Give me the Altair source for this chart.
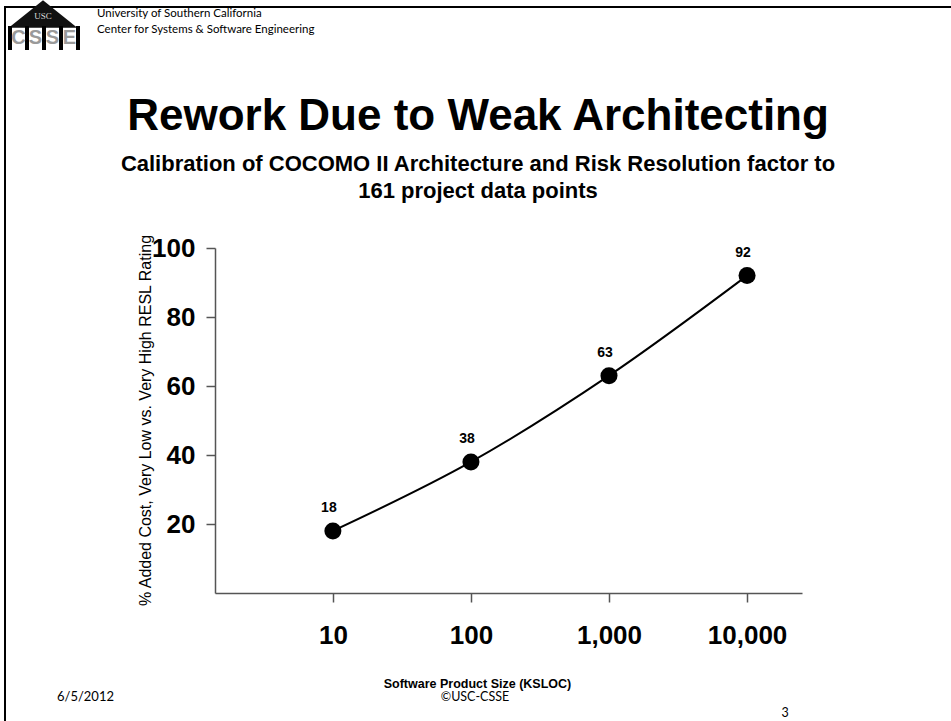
import altair as alt
import pandas as pd

# Rework cost vs. product size (COCOMO II RESL factor calibration)
size_ksloc = [10, 100, 1000, 10000]
added_cost = [18, 38, 63, 92]
size_ticks = [10, 100, 1000, 10000]
cost_ticks = [20, 40, 60, 80, 100]

df = pd.DataFrame({"size": size_ksloc, "cost": added_cost})

# page geometry: plot area placed inside a 951x721 slide
W, H = 951, 721
L, T = 215, 248
PW, PH = 587, 345

ARIAL = "Liberation Sans"
BODY = "Lato"

x_enc = alt.X(
    "size:Q",
    scale=alt.Scale(type="log", domain=[1.4, 25000]),
    axis=alt.Axis(
        values=size_ticks, format=",", title="Software Product Size (KSLOC)",
        titleFont=ARIAL, titleFontSize=12.5, titleFontWeight="bold", titleColor="black",
        titleX=262, titleY=90, titleBaseline="middle", titleAnchor="start", titleAlign="center",
        labelPadding=20, labelFontSize=26,
    ),
)
y_enc = alt.Y(
    "cost:Q",
    scale=alt.Scale(domain=[0, 100]),
    axis=alt.Axis(
        values=cost_ticks, title="% Added Cost, Very Low vs. Very High RESL Rating",
        titleFont=ARIAL, titleFontSize=16, titleFontWeight="normal", titleColor="black",
        titleAngle=-90, titleX=-70, titleY=172, titleBaseline="middle", titleAlign="center",
        labelPadding=11, labelFontSize=26,
    ),
)

base = alt.Chart(df).encode(x=x_enc, y=y_enc)

curve = base.mark_line(interpolate="monotone", color="black", strokeWidth=2)
dots = base.mark_circle(size=290, color="black", opacity=1)
values = base.mark_text(
    dy=-23, dx=-4, font=ARIAL, fontSize=14, fontWeight="bold", color="black"
).encode(text="cost:Q")


def note(text, x, y, size, weight="normal", font=BODY, align="center", color="black"):
    return alt.Chart(alt.Data(values=[{}])).mark_text(
        text=text, font=font, fontSize=size, fontWeight=weight,
        align=align, baseline="middle", color=color,
    ).encode(x=alt.value(x - L), y=alt.value(y - T))


def bar(x1, y1, x2, y2, color="black"):
    return alt.Chart(alt.Data(values=[{}])).mark_rect(color=color).encode(
        x=alt.value(x1 - L), x2=alt.value(x2 - L), y=alt.value(y1 - T), y2=alt.value(y2 - T)
    )


# slide frame
frame = [bar(4, 6, W, 8), bar(4, 6, 6, H)]

# logo: roof with USC, then boxed letters
roof = alt.Chart(alt.Data(values=[{}])).mark_point(
    shape="M -1 0.4 L 0 -0.4 L 1 0.4 Z", size=4700, filled=True, color="#111", opacity=1
).encode(x=alt.value(43 - L), y=alt.value(14 - T))
logo = [roof, note("USC", 43, 16, 9, font="Liberation Serif", color="#ddd")]
for bx in [10, 27, 44, 61, 78]:
    logo.append(bar(bx - 2, 26, bx + 2, 50))
for lx, ch in zip([18.5, 35.5, 52.5, 69.5], ["C", "S", "S", "E"]):
    logo.append(note(ch, lx, 38, 20, weight="bold", font=ARIAL, color="#9a9a9a"))

texts = [
    note("University of Southern California", 97, 14, 11.5, align="left"),
    note("Center for Systems & Software Engineering", 97, 30, 11.5, align="left"),
    note("Rework Due to Weak Architecting", 478, 117, 44, weight="bold", font=ARIAL),
    note("Calibration of COCOMO II Architecture and Risk Resolution factor to", 478, 164, 22,
         weight="bold", font=ARIAL),
    note("161 project data points", 478, 191, 22, weight="bold", font=ARIAL),
    note("6/5/2012", 57, 697, 13, align="left"),
    note("\u00a9USC-CSSE", 475, 697, 12.5),
    note("3", 785, 713, 12.5),
]

chart = alt.layer(curve, dots, values, *frame, *logo, *texts).properties(
    width=PW, height=PH,
    padding={"left": L, "top": T, "right": W - L - PW, "bottom": H - T - PH},
    autosize=alt.AutoSizeParams(type="none"),
    background="white",
).configure_view(stroke=None).configure_axis(
    grid=False, domainColor="#555", domainWidth=1.5, tickColor="#555", tickWidth=1.5,
    tickSize=9, labelFont=ARIAL, labelFontWeight="bold", labelColor="black",
)

chart.save("out.html", embed_options={"renderer": "svg", "actions": False})
